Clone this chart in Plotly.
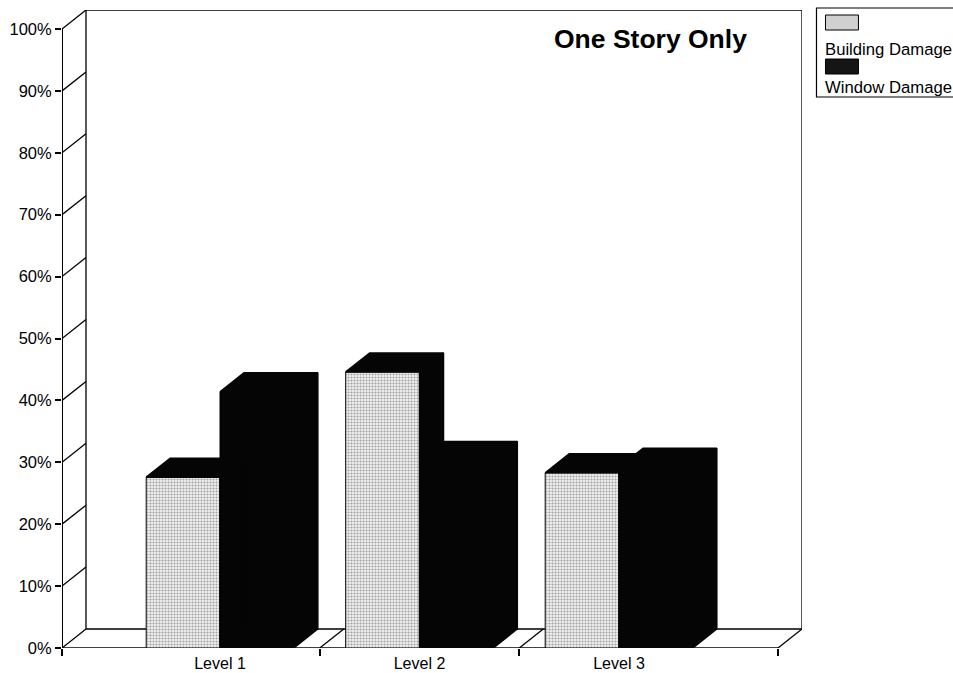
import plotly.graph_objects as go

# ---- data -------------------------------------------------------------
levels = ["Level 1", "Level 2", "Level 3"]
building_damage = [27.6, 44.6, 28.3]   # percent
window_damage = [41.4, 30.3, 29.2]     # percent
y_ticks = [0, 10, 20, 30, 40, 50, 60, 70, 80, 90, 100]
y_tick_labels = [f"{v}%" for v in y_ticks]

# ---- geometry of the pseudo-3D frame ------------------------------------
W, H = 953, 673
ML, MR, MT, MB = 62, 150.5, 10, 25
PW, PH = W - ML - MR, H - MT - MB
X_MIN, X_MAX = 0.208, 3.797          # front edge of the floor
DX, DY = 0.1203, 3.07                 # depth offset (x units, percent)
BAR_W = 0.37
FONT = "Liberation Sans, Arial, Helvetica, sans-serif"
centers = list(range(1, len(levels) + 1))


def px_x(p):
    return (p - ML) / PW


def px_y(p):
    return (H - MB - p) / PH


def faces(x0s, vals):
    """Top and right-side polygons for a row of bars."""
    tx, ty, sx, sy = [], [], [], []
    for x0, v in zip(x0s, vals):
        x1 = x0 + BAR_W
        tx += [x0, x1, x1 + DX, x0 + DX, x0, None]
        ty += [v, v, v + DY, v + DY, v, None]
        sx += [x1, x1 + DX, x1 + DX, x1, x1, None]
        sy += [0, DY, v + DY, v, 0, None]
    return tx, ty, sx, sy


fig = go.Figure()

# front faces
fig.add_trace(go.Bar(
    x=centers, y=building_damage, width=BAR_W, offset=-BAR_W,
    name="Building Damage",
    marker=dict(color="#efefef", line=dict(color="black", width=1),
                pattern=dict(shape=".", fgcolor="#555555", bgcolor="#efefef",
                             size=3, solidity=0.4)),
    hoverinfo="skip", showlegend=False,
))
fig.add_trace(go.Bar(
    x=centers, y=window_damage, width=BAR_W, offset=0,
    name="Window Damage",
    marker=dict(color="#050505", line=dict(color="#050505", width=1)),
    hoverinfo="skip", showlegend=False,
))

# tops and sides
b_x0 = [c - BAR_W for c in centers]
w_x0 = list(centers)
for x0s, vals in ((b_x0, building_damage), (w_x0, window_damage)):
    tx, ty, sx, sy = faces(x0s, vals)
    for xs, ys in ((sx, sy), (tx, ty)):
        fig.add_trace(go.Scatter(
            x=xs, y=ys, mode="lines", fill="toself", fillcolor="#050505",
            line=dict(color="#050505", width=1.5), hoverinfo="skip",
            showlegend=False,
        ))

# ---- walls and floor ---------------------------------------------------
line = dict(color="black", width=1.3)
shapes = []
# back wall
shapes.append(dict(type="rect", xref="x", yref="y", x0=X_MIN + DX, y0=DY,
                   x1=X_MAX + DX, y1=100 + DY, line=line, layer="below"))
# left side wall: diagonals at every tick
for v in y_ticks:
    shapes.append(dict(type="line", xref="x", yref="y", x0=X_MIN, y0=v,
                       x1=X_MIN + DX, y1=v + DY, line=line, layer="below"))
# floor
shapes.append(dict(type="line", xref="x", yref="y", x0=X_MIN, y0=0,
                   x1=X_MAX, y1=0, line=dict(color="black", width=1.6),
                   layer="below"))
for xv in [1.5, 2.5, X_MAX]:
    shapes.append(dict(type="line", xref="x", yref="y", x0=xv, y0=0,
                       x1=xv + DX, y1=DY, line=line, layer="below"))
# front vertical axis
shapes.append(dict(type="line", xref="x", yref="y", x0=X_MIN, y0=0,
                   x1=X_MIN, y1=100, line=dict(color="black", width=2),
                   layer="below"))

# legend box and swatches
shapes.append(dict(type="rect", xref="paper", yref="paper",
                   x0=px_x(817), x1=px_x(965), y0=px_y(97), y1=px_y(8),
                   line=dict(color="black", width=1.2), fillcolor="white"))
shapes.append(dict(type="rect", xref="paper", yref="paper",
                   x0=px_x(826), x1=px_x(859), y0=px_y(30), y1=px_y(15),
                   line=dict(color="black", width=1), fillcolor="#d0d0d0"))
shapes.append(dict(type="rect", xref="paper", yref="paper",
                   x0=px_x(826), x1=px_x(859), y0=px_y(74), y1=px_y(59),
                   line=dict(color="black", width=1), fillcolor="#151515"))

annotations = [
    dict(text="One Story Only", xref="paper", yref="paper",
         x=px_x(651), y=px_y(39), xanchor="center", yanchor="middle",
         showarrow=False,
         font=dict(family=FONT, size=26.5, color="black", weight="bold")),
    dict(text="Building Damage", xref="paper", yref="paper",
         x=px_x(824), y=px_y(50), xanchor="left", yanchor="middle",
         showarrow=False, font=dict(family=FONT, size=16.7, color="black")),
    dict(text="Window Damage", xref="paper", yref="paper",
         x=px_x(824), y=px_y(88), xanchor="left", yanchor="middle",
         showarrow=False, font=dict(family=FONT, size=16.7, color="black")),
]

fig.update_layout(
    width=W, height=H, autosize=False,
    margin=dict(l=ML, r=MR, t=MT, b=MB, pad=0, autoexpand=False),
    paper_bgcolor="white", plot_bgcolor="white",
    barmode="overlay", showlegend=False,
    shapes=shapes, annotations=annotations,
    font=dict(family=FONT, color="black"),
    xaxis=dict(
        range=[X_MIN, X_MAX + DX], showgrid=False, zeroline=False,
        showline=False, tickmode="array", tickvals=centers, ticktext=levels,
        ticks="", ticklabelstandoff=4, tickfont=dict(size=16),
        automargin=False,
        minor=dict(tickmode="array", tickvals=[X_MIN, 1.5, 2.5, X_MAX],
                   ticks="outside", ticklen=7, tickwidth=1.5,
                   tickcolor="black", showgrid=False),
        fixedrange=True,
    ),
    yaxis=dict(
        range=[0, 100 + DY], showgrid=False, zeroline=False, showline=False,
        tickmode="array", tickvals=y_ticks, ticktext=y_tick_labels,
        ticks="outside", ticklen=6, tickwidth=1.5, tickcolor="black",
        tickfont=dict(size=16.5), automargin=False, fixedrange=True,
    ),
)

fig.write_html("out.html")
